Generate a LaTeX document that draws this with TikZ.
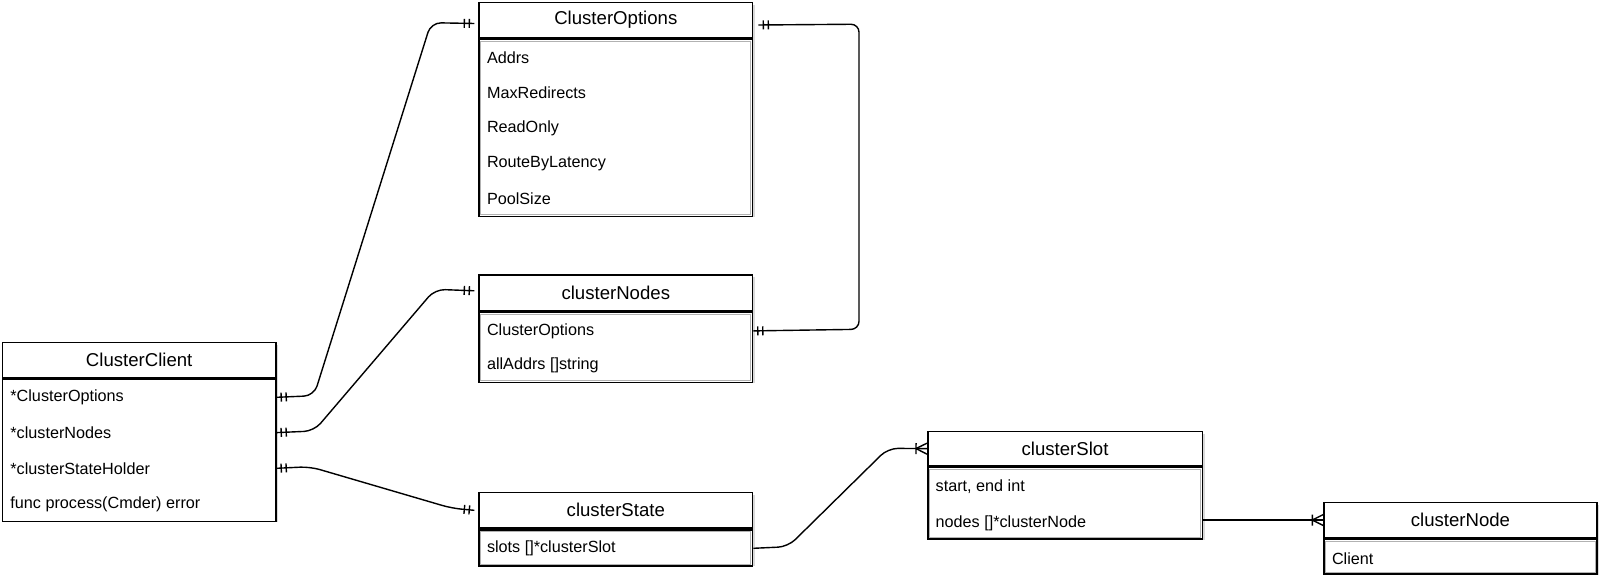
\documentclass[tikz,border=0pt]{standalone}
\usepackage{fontspec}
\setmainfont{Liberation Sans}
\usetikzlibrary{calc,decorations.markings}
\newcommand\hdrfont{\fontsize{18.6}{22}\selectfont}
\newcommand\rowfont{\fontsize{16.2}{19}\selectfont}
\newcommand\ertick{\draw[line width=1.4pt] (0,-4.5pt) -- (0,4.5pt);}
\newcommand\crowfoot{\draw[line width=1.4pt] (0,-5.5pt) -- (0,5.5pt) (0,0) -- (11pt,5.5pt) (0,0) -- (11pt,-5.5pt);}
\tikzset{
  box/.style={draw, line width=1.6pt, fill=white, anchor=north west, inner sep=0pt, minimum width=#1},
  hdr/.style={box=#1, minimum height=35pt, font=\hdrfont},
  rowtxt/.style={anchor=west, inner sep=0pt, font=\rowfont},
  shadowbox/.style={fill=black!15, draw=none},
  innerbox/.style={draw=black!30, line width=0.8pt},
  conn/.style={line width=1.4pt, rounded corners=10pt},
  one2one/.style={postaction={decorate,decoration={markings,
      mark=at position 4.5pt with {\ertick},
      mark=at position 9.5pt with {\ertick},
      mark=at position -10pt with {\ertick},
      mark=at position -5pt with {\ertick}}}},
  toMany/.style={postaction={decorate,decoration={markings,
      mark=at position -11pt with {\crowfoot}}}},
}
\begin{document}
\begin{tikzpicture}[x=1pt,y=-1pt]
\useasboundingbox (0,0) rectangle (1600,577);
\fill[white] (0,0) rectangle (1600,577);

% ---------- ClusterClient ----------
\fill[shadowbox] (4.7,344.7) rectangle (278.1,522);
\node[hdr=273.4pt] (cc) at (1.7,341.7) {ClusterClient};
\node[box=273.4pt, minimum height=142.3pt] (ccb) at (cc.south west) {};
\node[rowtxt] (cc1) at ($(ccb.north west)+(8.5,19)$) {*ClusterOptions};
\node[rowtxt] (cc2) at ($(ccb.north west)+(8.5,54.3)$) {*clusterNodes};
\node[rowtxt] (cc3) at ($(ccb.north west)+(8.5,90)$) {*clusterStateHolder};
\node[rowtxt] (cc4) at ($(ccb.north west)+(8.5,126)$) {func process(Cmder) error};

% ---------- ClusterOptions ----------
\fill[shadowbox] (481.3,4.7) rectangle (754.7,217);
\node[hdr=273.4pt] (co) at (478.3,1.7) {ClusterOptions};
\node[box=273.4pt, minimum height=177.3pt] (cob) at (co.south west) {};
\draw[innerbox] ($(cob.north west)+(2.5,2.8)$) rectangle ($(cob.south east)+(-2.5,-2.5)$);
\node[rowtxt] (co1) at ($(cob.north west)+(8.5,19.3)$) {Addrs};
\node[rowtxt] (co2) at ($(cob.north west)+(8.5,54.3)$) {MaxRedirects};
\node[rowtxt] (co3) at ($(cob.north west)+(8.5,90.3)$) {ReadOnly};
\node[rowtxt] (co4) at ($(cob.north west)+(8.5,125.3)$) {RouteByLatency};
\node[rowtxt] (co5) at ($(cob.north west)+(8.5,160.3)$) {PoolSize};

% ---------- clusterNodes ----------
\fill[shadowbox] (481.3,277) rectangle (754.7,383);
\node[hdr=273.4pt, minimum height=36pt] (cn) at (478.3,274) {clusterNodes};
\node[box=273.4pt, minimum height=70pt] (cnb) at (cn.south west) {};
\draw[innerbox] ($(cnb.north west)+(2.5,2.8)$) rectangle ($(cnb.south east)+(-2.5,-2.5)$);
\node[rowtxt] (cn1) at ($(cnb.north west)+(8.5,19.3)$) {ClusterOptions};
\node[rowtxt] (cn2) at ($(cnb.north west)+(8.5,54)$) {allAddrs []string};

% ---------- clusterState ----------
\fill[shadowbox] (481.3,494.7) rectangle (754.7,566.3);
\node[hdr=273.4pt, minimum height=35.6pt] (cs) at (478.3,491.7) {clusterState};
\node[box=273.4pt, minimum height=36pt] (csb) at (cs.south west) {};
\draw[innerbox] ($(csb.north west)+(2.5,2.8)$) rectangle ($(csb.south east)+(-2.5,-2.5)$);
\node[rowtxt] (cs1) at ($(csb.north west)+(8.5,19.4)$) {slots []*clusterSlot};

% ---------- clusterSlot ----------
\fill[shadowbox] (930,433.7) rectangle (1204.5,539.7);
\node[hdr=274.5pt, minimum height=34.3pt] (sl) at (927,430.7) {clusterSlot};
\node[box=274.5pt, minimum height=71.7pt] (slb) at (sl.south west) {};
\draw[innerbox] ($(slb.north west)+(2.5,2.8)$) rectangle ($(slb.south east)+(-2.5,-2.5)$);
\node[rowtxt] (sl1) at ($(slb.north west)+(8.5,20)$) {start, end int};
\node[rowtxt] (sl2) at ($(slb.north west)+(8.5,56.5)$) {nodes []*clusterNode};

% ---------- clusterNode ----------
\fill[shadowbox] (1326.3,504.7) rectangle (1599,574.7);
\node[hdr=272.7pt] (nd) at (1323.3,501.7) {clusterNode};
\node[box=272.7pt, minimum height=35pt] (ndb) at (nd.south west) {};
\draw[innerbox] ($(ndb.north west)+(2.5,2.8)$) rectangle ($(ndb.south east)+(-2.5,-2.5)$);
\node[rowtxt] (nd1) at ($(ndb.north west)+(8.5,20)$) {Client};

% ---------- connectors ----------
\draw[conn, one2one] (ccb.east |- cc1) -- (314,395.7) -- (431,22.7) -- ($(co.west)+(-4,3.5)$);
\draw[conn, one2one] (ccb.east |- cc2) -- (314,431) -- (435,289.3) -- ($(cn.west)+(-4,-2)$);
\draw[conn, one2one] (ccb.east |- cc3) -- (310,466.7) -- (452,508.3) -- ($(cs.west)+(-4,0)$);
\draw[conn, one2one, rounded corners=8pt] (cnb.east |- cn1) -- (859,329.3) -- (859,24.2) -- ($(co.east)+(5,5)$);
\draw[conn, toMany] (csb.east |- cs1) -- (788,546.7) -- (888,448.3) -- (sl.west);
\draw[conn, toMany] (slb.east |- nd.west) -- (nd.west);
\end{tikzpicture}
\end{document}
